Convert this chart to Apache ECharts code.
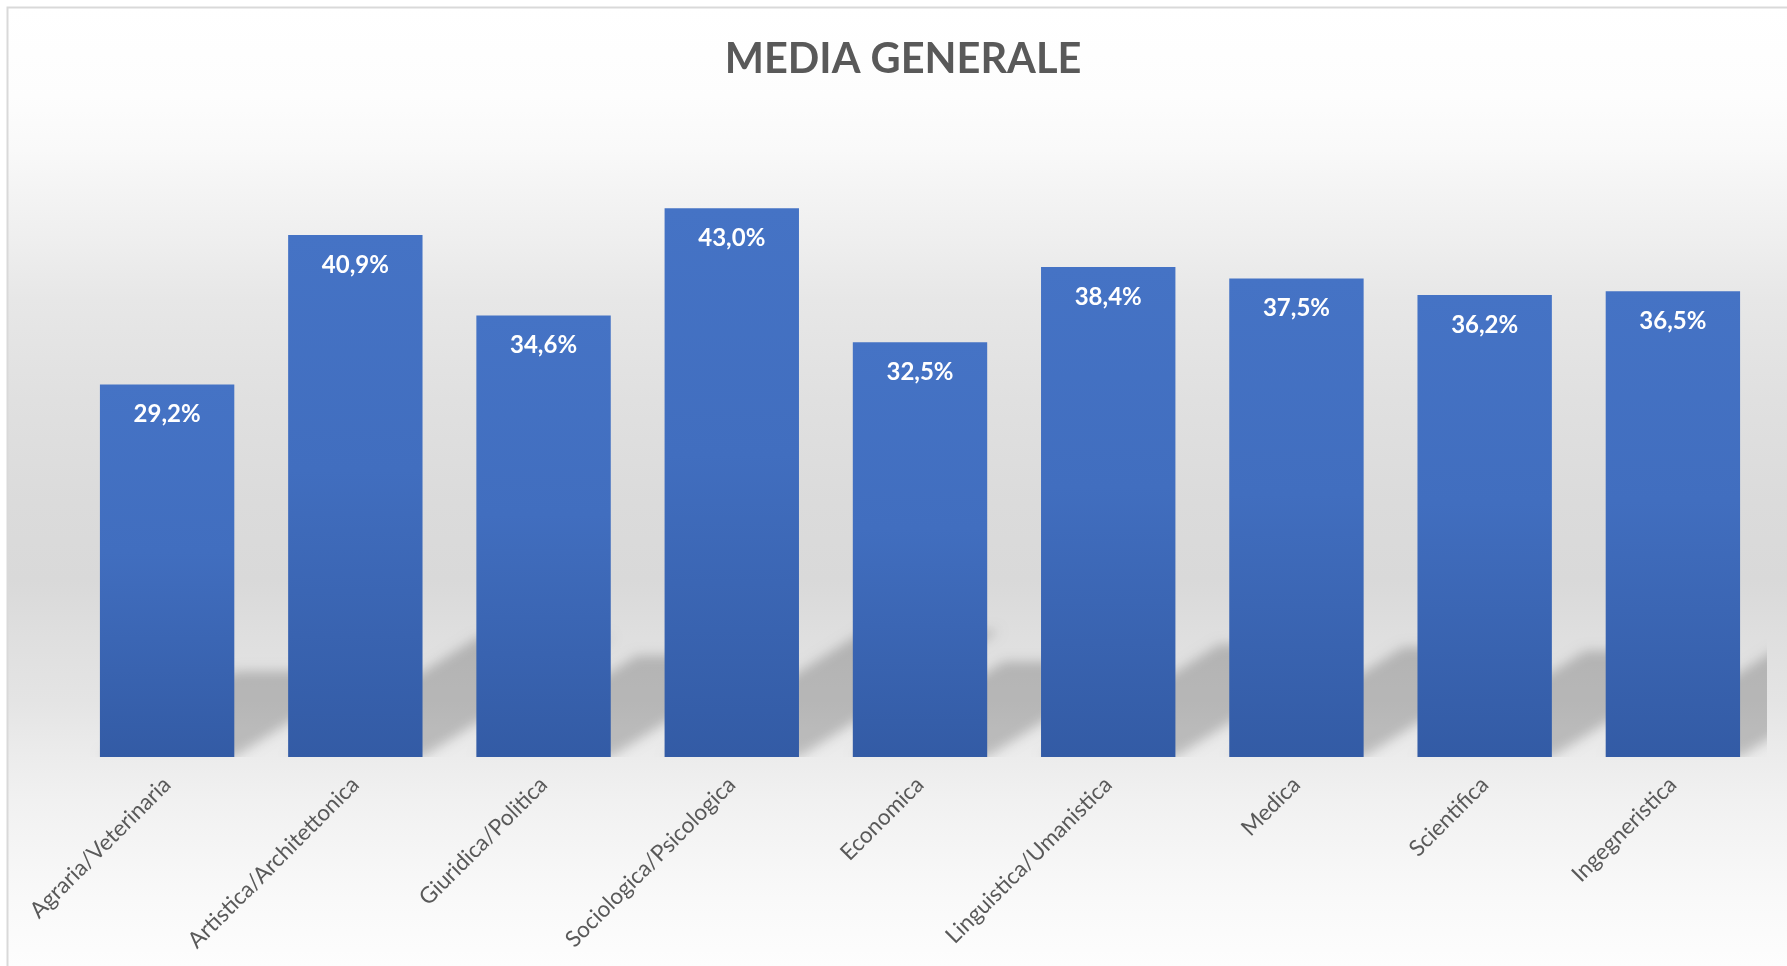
<!DOCTYPE html>
<html>
<head>
<meta charset="utf-8">
<title>Media generale</title>
<script src="https://cdn.jsdelivr.net/npm/echarts@6/dist/echarts.min.js"></script>
<style>
  html, body { margin: 0; padding: 0; background: #ffffff; }
  #chart { width: 1787px; height: 966px; }
</style>
</head>
<body>
<div id="chart"></div>
<script>
// ---- data ----
const chartTitle = 'MEDIA GENERALE';
const categories = [
  'Agraria/Veterinaria',
  'Artistica/Architettonica',
  'Giuridica/Politica',
  'Sociologica/Psicologica',
  'Economica',
  'Linguistica/Umanistica',
  'Medica',
  'Scientifica',
  'Ingegneristica'
];
const values = [29.2, 40.9, 34.6, 43.0, 32.5, 38.4, 37.5, 36.2, 36.5];
const axisMin = 0;
const axisMax = 50;

// ---- styling constants ----
const FONT = 'Lato, "Open Sans", sans-serif';
const BAR_GAP = 0.286;          // share of each category left empty
const SHADOW_SCALE_Y = 0.23;    // cast shadow height relative to bar height
const SHADOW_SKEW = 0.364;      // horizontal lean of the shadow (tan 20deg)
const OFF = 4000;               // draw shape off-canvas, keep only its blurred shadow

const formatPct = v => v.toFixed(1).replace('.', ',') + '%';

const chart = echarts.init(document.getElementById('chart'), null, { renderer: 'canvas' });

const bgGradient = new echarts.graphic.LinearGradient(0, 0, 0, 966, [
  { offset: 0.007, color: '#ffffff' },
  { offset: 0.10, color: '#fdfdfd' },
  { offset: 0.155, color: '#f9f9f9' },
  { offset: 0.207, color: '#f3f3f3' },
  { offset: 0.26, color: '#ededed' },
  { offset: 0.31, color: '#e7e7e7' },
  { offset: 0.414, color: '#e0e0e0' },
  { offset: 0.52, color: '#dbdbdb' },
  { offset: 0.60, color: '#d9d9d9' },
  { offset: 0.66, color: '#dfdfdf' },
  { offset: 0.725, color: '#e4e4e4' },
  { offset: 0.784, color: '#ececec' },
  { offset: 0.83, color: '#f1f1f1' },
  { offset: 0.93, color: '#f9f9f9' },
  { offset: 1.0, color: '#fdfdfd' }
], true);

const barGradient = new echarts.graphic.LinearGradient(0, 0, 0, 1, [
  { offset: 0, color: '#4573c5' },
  { offset: 0.45, color: '#416ebf' },
  { offset: 1, color: '#335ba5' }
]);

// perspective cast shadow leaning to the upper right behind each bar
function renderShadow(params, api) {
  const idx = api.value(0);
  const val = api.value(1);
  const base = api.coord([idx, 0]);
  const top = api.coord([idx, val]);
  const bw = api.size([1, 0])[0] * (1 - BAR_GAP);
  const h = base[1] - top[1];
  const L = base[0] - bw / 2;
  const R = base[0] + bw / 2;
  const y0 = base[1];
  const dx = h * SHADOW_SKEW;
  const dy = h * SHADOW_SCALE_Y;
  return {
    type: 'polygon',
    shape: {
      points: [
        [L + OFF, y0],
        [R + OFF, y0],
        [R + dx + OFF, y0 - dy],
        [L + dx + OFF, y0 - dy]
      ]
    },
    style: {
      fill: '#000000',
      shadowBlur: 12,
      shadowColor: 'rgba(0,0,0,0.2)',
      shadowOffsetX: -OFF,
      shadowOffsetY: 0
    }
  };
}

const option = {
  animation: false,
  backgroundColor: '#ffffff',
  graphic: [{
    type: 'rect',
    z: -100,
    silent: true,
    shape: { x: 7.5, y: 7.5, width: 1800, height: 1000 },
    style: { fill: bgGradient, stroke: '#d9d9d9', lineWidth: 2 }
  }],
  title: {
    text: chartTitle,
    left: 898,
    top: 34,
    textAlign: 'center',
    textStyle: {
      fontFamily: FONT,
      fontWeight: 'bold',
      fontSize: 41.5,
      color: '#595959'
    }
  },
  grid: { left: 73, right: 20, top: 119, bottom: 209 },
  xAxis: {
    type: 'category',
    data: categories,
    axisLine: { show: false },
    axisTick: { show: false },
    splitLine: { show: false },
    axisLabel: {
      interval: 0,
      rotate: 45,
      margin: 24,
      color: '#595959',
      fontFamily: FONT,
      fontSize: 22.5
    }
  },
  yAxis: {
    type: 'value',
    min: axisMin,
    max: axisMax,
    show: false,
    splitLine: { show: false }
  },
  series: [
    {
      type: 'custom',
      name: 'ombra',
      z: 1,
      clip: true,
      silent: true,
      renderItem: renderShadow,
      encode: { x: 0, y: 1 },
      data: values.map((v, i) => [i, v])
    },
    {
      type: 'bar',
      name: 'Media generale',
      z: 2,
      data: values,
      barCategoryGap: (BAR_GAP * 100) + '%',
      itemStyle: { color: barGradient },
      label: {
        show: true,
        position: 'insideTop',
        distance: 18,
        color: '#ffffff',
        fontFamily: FONT,
        fontWeight: 'bold',
        fontSize: 24,
        formatter: p => formatPct(p.value)
      }
    }
  ]
};

chart.setOption(option);
</script>
</body>
</html>
